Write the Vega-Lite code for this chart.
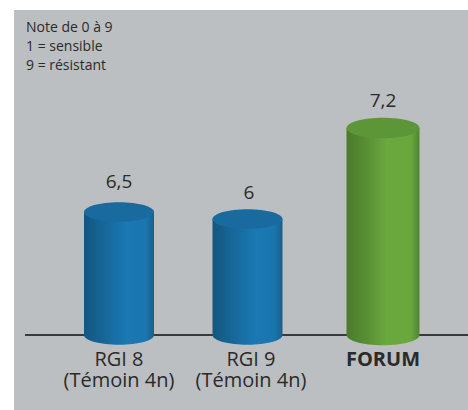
{
"$schema":"https://vega.github.io/schema/vega-lite/v6.json",
"autosize":"none","width":454,"height":400,
"padding":{"left":14,"top":10,"right":0,"bottom":0},
"background":"#ffffff",
"config":{"view":{"fill":"#bcbfc2","stroke":null},"font":"Open Sans",
"locale":{"number":{"decimal":",","thousands":" ","grouping":[3],"currency":["","€"]}}},
"title":{"text":["Note de 0 à 9","1 = sensible","9 = résistant"],"anchor":"start","frame":"group","orient":"top","offset":-63,"dx":12,"fontSize":14,"fontWeight":"normal","color":"#2b2a29","font":"Open Sans","lineHeight":19},
"data":{"values":[
{"variete":"RGI 8","libelle":"RGI 8\n(Témoin 4n)","note":6.5,"groupe":"temoin"},
{"variete":"RGI 9","libelle":"RGI 9\n(Témoin 4n)","note":6,"groupe":"temoin"},
{"variete":"FORUM","libelle":"FORUM","note":7.2,"groupe":"forum"}]},
"encoding":{
"x":{"field":"variete","type":"nominal","sort":null,"axis":null,"scale":{"domain":["RGI 8","RGI 9","FORUM"],"range":[39,435],"paddingInner":0,"paddingOuter":0}},
"y":{"field":"note","type":"quantitative","axis":null,"scale":{"domain":[-1,0,6,6.5,7.2,9],"range":[400,325,209,202,118,0]}}
},
"layer":[
{"mark":{"type":"rule","stroke":"#3a3a3a","strokeWidth":2,"xOffset":-94,"x2Offset":85},
 "encoding":{"x":{"datum":"RGI 8"},"x2":{"datum":"FORUM"},"y":{"datum":0}}},
{"transform":[{"filter":"datum.variete=='RGI 8'"}],
 "mark":{"type":"bar","size":70,"color":{"gradient":"linear","x1":0,"x2":1,"y1":0,"y2":0,"stops":[{"offset":0,"color":"#14567f"},{"offset":0.3,"color":"#17689a"},{"offset":0.6,"color":"#1a78b3"},{"offset":0.88,"color":"#1a76ae"},{"offset":1,"color":"#175f8f"}]}},
 "encoding":{"y":{"field":"note","type":"quantitative"},"y2":{"datum":0}}},
{"transform":[{"filter":"datum.variete=='RGI 8'"}],
 "mark":{"type":"point","filled":true,"opacity":1,"size":4900,"shape":"M-1,0A1,0.28,0,0,0,1,0Z","color":{"gradient":"linear","x1":0,"x2":1,"y1":0,"y2":0,"stops":[{"offset":0,"color":"#14567f"},{"offset":0.3,"color":"#17689a"},{"offset":0.6,"color":"#1a78b3"},{"offset":0.88,"color":"#1a76ae"},{"offset":1,"color":"#175f8f"}]}},
 "encoding":{"y":{"datum":0}}},
{"transform":[{"filter":"datum.variete=='RGI 8'"}],
 "mark":{"type":"point","filled":true,"opacity":1,"size":4900,"shape":"M-1,0A1,0.28,0,1,1,1,0A1,0.28,0,1,1,-1,0Z","color":"#186a9f"}},
{"transform":[{"filter":"datum.variete=='RGI 9'"}],
 "mark":{"type":"bar","size":70,"xOffset":-3.5,"color":{"gradient":"linear","x1":0,"x2":1,"y1":0,"y2":0,"stops":[{"offset":0,"color":"#14567f"},{"offset":0.3,"color":"#17689a"},{"offset":0.6,"color":"#1a78b3"},{"offset":0.88,"color":"#1a76ae"},{"offset":1,"color":"#175f8f"}]}},
 "encoding":{"y":{"field":"note","type":"quantitative"},"y2":{"datum":0}}},
{"transform":[{"filter":"datum.variete=='RGI 9'"}],
 "mark":{"type":"point","filled":true,"opacity":1,"size":4900,"xOffset":-3.5,"shape":"M-1,0A1,0.28,0,0,0,1,0Z","color":{"gradient":"linear","x1":0,"x2":1,"y1":0,"y2":0,"stops":[{"offset":0,"color":"#14567f"},{"offset":0.3,"color":"#17689a"},{"offset":0.6,"color":"#1a78b3"},{"offset":0.88,"color":"#1a76ae"},{"offset":1,"color":"#175f8f"}]}},
 "encoding":{"y":{"datum":0}}},
{"transform":[{"filter":"datum.variete=='RGI 9'"}],
 "mark":{"type":"point","filled":true,"opacity":1,"size":4900,"xOffset":-3.5,"shape":"M-1,0A1,0.28,0,1,1,1,0A1,0.28,0,1,1,-1,0Z","color":"#186a9f"}},
{"transform":[{"filter":"datum.groupe=='forum'"}],
 "mark":{"type":"bar","size":73,"color":{"gradient":"linear","x1":0,"x2":1,"y1":0,"y2":0,"stops":[{"offset":0,"color":"#4b7a2c"},{"offset":0.3,"color":"#5a9135"},{"offset":0.55,"color":"#6ba83e"},{"offset":0.88,"color":"#6aa83d"},{"offset":1,"color":"#4f8530"}]}},
 "encoding":{"y":{"field":"note","type":"quantitative"},"y2":{"datum":0}}},
{"transform":[{"filter":"datum.groupe=='forum'"}],
 "mark":{"type":"point","filled":true,"opacity":1,"size":5329,"shape":"M-1,0A1,0.28,0,0,0,1,0Z","color":{"gradient":"linear","x1":0,"x2":1,"y1":0,"y2":0,"stops":[{"offset":0,"color":"#4b7a2c"},{"offset":0.3,"color":"#5a9135"},{"offset":0.55,"color":"#6ba83e"},{"offset":0.88,"color":"#6aa83d"},{"offset":1,"color":"#4f8530"}]}},
 "encoding":{"y":{"datum":0}}},
{"transform":[{"filter":"datum.groupe=='forum'"}],
 "mark":{"type":"point","filled":true,"opacity":1,"size":5329,"shape":"M-1,0A1,0.28,0,1,1,1,0A1,0.28,0,1,1,-1,0Z","color":"#5c9636"}},
{"transform":[{"filter":"datum.variete=='RGI 8'"}],
 "mark":{"type":"text","fontSize":19,"dy":-24,"baseline":"alphabetic","color":"#2b2a29"},
 "encoding":{"text":{"field":"note","type":"quantitative","format":".2~f"}}},
{"transform":[{"filter":"datum.variete=='RGI 9'"}],
 "mark":{"type":"text","fontSize":19,"dy":-20,"dx":-2,"baseline":"alphabetic","color":"#2b2a29"},
 "encoding":{"text":{"field":"note","type":"quantitative","format":".2~f"}}},
{"transform":[{"filter":"datum.groupe=='forum'"}],
 "mark":{"type":"text","fontSize":19,"dy":-21,"baseline":"alphabetic","color":"#2b2a29"},
 "encoding":{"text":{"field":"note","type":"quantitative","format":".2~f"}}},
{"transform":[{"filter":"datum.groupe=='temoin'"}],
 "mark":{"type":"text","fontSize":20,"dy":31,"baseline":"alphabetic","lineBreak":"\n","lineHeight":21,"color":"#2b2a29"},
 "encoding":{"text":{"field":"libelle"},"y":{"datum":0}}},
{"transform":[{"filter":"datum.groupe=='forum'"}],
 "mark":{"type":"text","fontSize":20,"fontWeight":"bold","dy":31,"baseline":"alphabetic","color":"#2b2a29"},
 "encoding":{"text":{"field":"libelle"},"y":{"datum":0}}}
]
}
